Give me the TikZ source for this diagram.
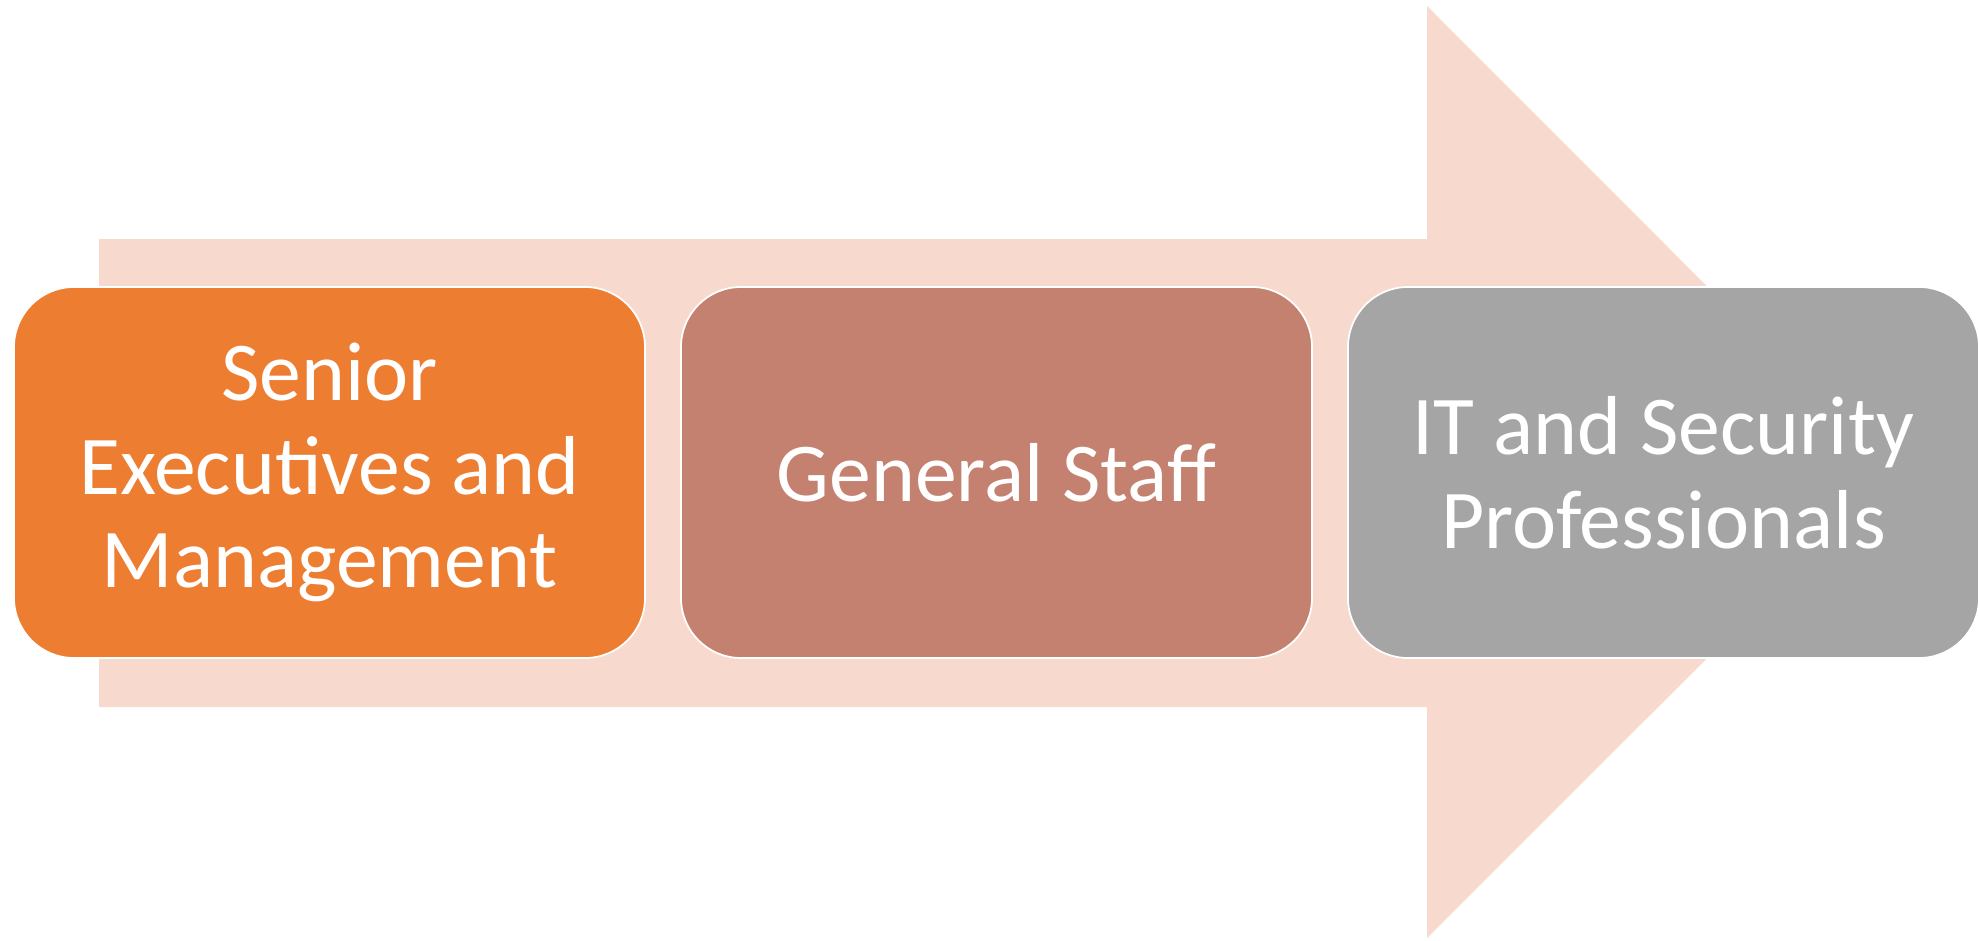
\documentclass[tikz,border=0pt]{standalone}
\usepackage{fontspec}
\setmainfont{Carlito}
\usepackage{tikz}
\definecolor{arrowpink}{RGB}{247,217,206}
\definecolor{seniororange}{RGB}{237,125,49}
\definecolor{staffbrown}{RGB}{196,129,112}
\definecolor{itgray}{RGB}{165,165,165}

\begin{document}
\begin{tikzpicture}[stage/.style={rectangle,rounded corners=0.6cm,draw=white,line width=0.5pt,minimum width=6.31cm,minimum height=3.71cm,text=white,align=center,font=\fontsize{23.8pt}{26.7pt}\selectfont}]
			\useasboundingbox (0,0) rectangle (19.79,9.40);
			\fill[arrowpink] (0.99,7.01) -- (14.27,7.01) -- (14.27,9.34) -- (18.93,4.675) -- (14.27,0.02) -- (14.27,2.33) -- (0.99,2.33) -- cycle;
			\node[stage,fill=seniororange] (senior) at (3.295,4.675) {Senior\\Executives and\\Management};
			\node[stage,fill=staffbrown] (staff) at (9.965,4.675) {General Staff};
			\node[stage,fill=itgray] (itsec) at (16.635,4.675) {IT and Security\\Professionals};
		\end{tikzpicture}
\end{document}
